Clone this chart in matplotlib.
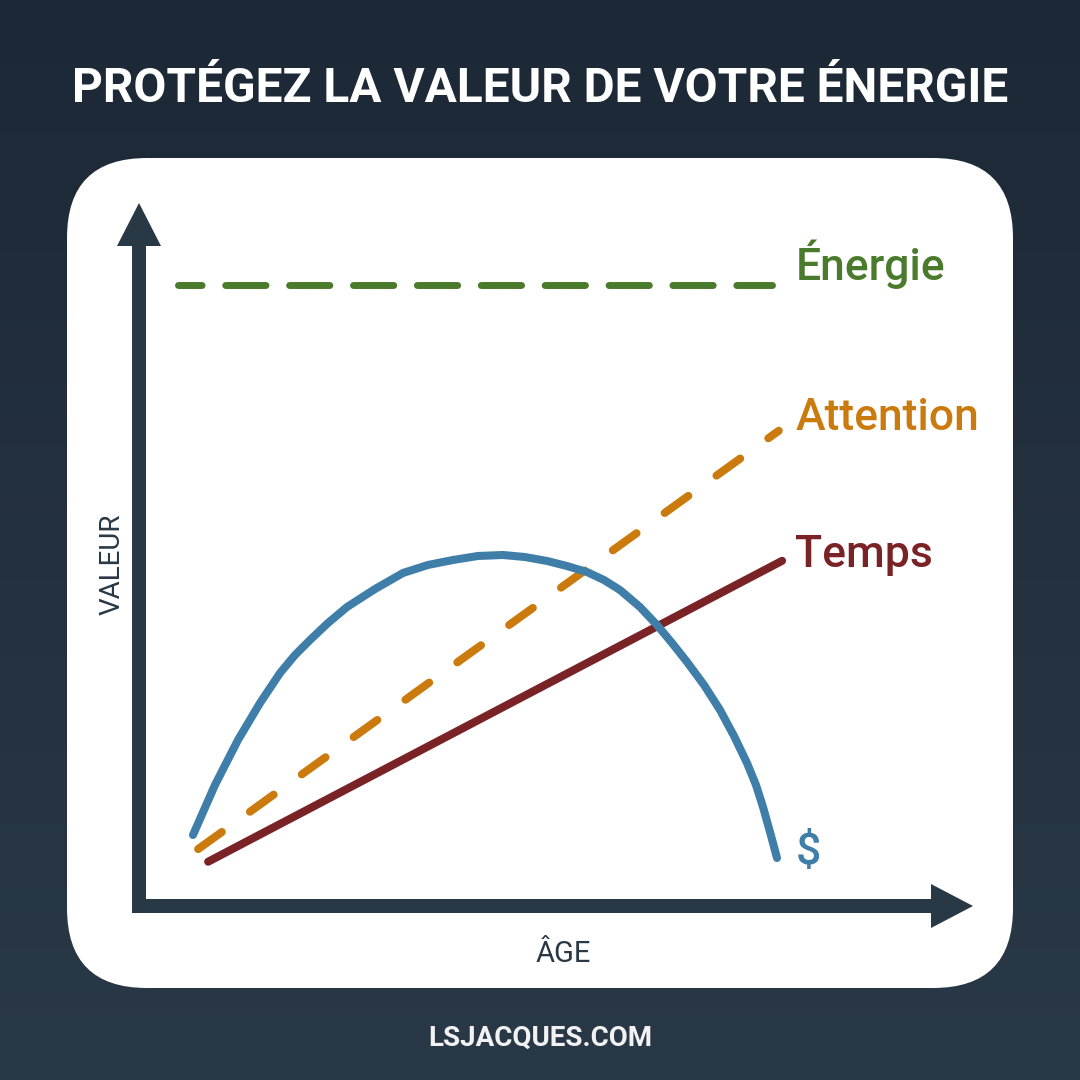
import matplotlib
matplotlib.use("Agg")
import matplotlib.pyplot as plt
import numpy as np
from matplotlib.patches import FancyBboxPatch, Polygon

plt.rcParams['font.family'] = ['Roboto', 'DejaVu Sans']
plt.rcParams['lines.scale_dashes'] = False

# données (âge 0-100, valeur 0-100)
energie_x = [4.7, 76.0]
energie_y = [88.3, 88.3]
attention_x = [7.1, 76.8]
attention_y = [8.1, 67.6]
temps_x = [8.3, 77.2]
temps_y = [6.3, 49.1]
argent_x = [6.48, 9.12, 11.88, 14.53, 16.93, 18.73, 20.53, 22.69, 24.97, 28.33,
            31.69, 34.69, 37.70, 40.70, 43.70, 46.34, 48.98, 51.38, 53.78, 55.82,
            57.74, 60.14, 62.18, 63.99, 65.79, 67.83, 69.75, 71.43, 72.99, 74.07,
            74.91, 75.75, 76.59]
argent_y = [10.10, 17.21, 23.61, 28.88, 33.14, 35.70, 37.84, 40.26, 42.53, 45.09,
            47.37, 48.51, 49.22, 49.79, 49.93, 49.64, 49.08, 48.36, 47.51, 46.37,
            44.95, 42.53, 39.97, 37.41, 34.71, 31.44, 27.88, 24.18, 20.34, 17.21,
            14.08, 10.53, 6.83]

titre = "PROTÉGEZ LA VALEUR DE VOTRE ÉNERGIE"
labels = ["Énergie", "Attention", "Temps", "$"]
label_x = [78.8, 78.8, 78.8, 78.8]
label_y = [89.0, 67.7, 48.2, 7.7]

VERT = '#4a7a2b'
ORANGE = '#cb7b0e'
ROUGE = '#7a2327'
BLEU = '#3f7ea8'
AXE = '#283845'

W = H = 1080
fig = plt.figure(figsize=(10.8, 10.8), dpi=100)

# fond : dégradé + cadre blanc arrondi
bg = fig.add_axes([0, 0, 1, 1])
bg.set_xlim(0, W)
bg.set_ylim(H, 0)
bg.axis('off')
top = np.array([0x1d, 0x28, 0x36]) / 255
bot = np.array([0x2a, 0x39, 0x47]) / 255
t = np.linspace(0, 1, 256)[:, None, None]
grad = top * (1 - t) + bot * t
grad = np.repeat(grad, 2, axis=1)
bg.imshow(grad, extent=[0, W, H, 0], aspect='auto', zorder=0)

box = FancyBboxPatch((67 + 80, 158 + 80), 1013 - 67 - 160, 988 - 158 - 160,
                     boxstyle="round,pad=80", fc='white', ec='none', zorder=1)
bg.add_patch(box)

# flèches des axes
yaxis = Polygon([(132, 913), (132, 246), (117, 246), (139, 203), (161, 246),
                 (146, 246), (146, 913)], closed=True, fc=AXE, ec='none', zorder=2)
xaxis = Polygon([(132, 899), (931, 899), (931, 884), (973, 906), (931, 928),
                 (931, 913), (132, 913)], closed=True, fc=AXE, ec='none', zorder=2)
bg.add_patch(yaxis)
bg.add_patch(xaxis)

bg.text(540, 102, titre, color='white', fontsize=34.5, fontweight='bold',
        ha='center', va='baseline', zorder=3)
bg.text(540, 1046, "LSJACQUES.COM", color='#f2f2f2', fontsize=20, fontweight='bold',
        ha='center', va='baseline', zorder=3)
bg.text(112, 564, "VALEUR", color=AXE, fontsize=20, rotation=90,
        ha='center', va='center', zorder=3)
bg.text(563, 962, "ÂGE", color=AXE, fontsize=21, ha='center', va='baseline', zorder=3)

# zone des données
ax = fig.add_axes([139 / W, (H - 906) / H, (972 - 139) / W, (906 - 203) / H])
ax.set_xlim(0, 100)
ax.set_ylim(0, 100)
ax.patch.set_alpha(0)
ax.axis('off')

ax.plot(energie_x, energie_y, color=VERT, lw=5, solid_capstyle='round',
        dash_capstyle='round', ls=(12, (29, 17)))
ax.plot(attention_x, attention_y, color=ORANGE, lw=5.8, dash_capstyle='round',
        ls=(0, (21, 25)))
ax.plot(temps_x, temps_y, color=ROUGE, lw=5.8, solid_capstyle='round')
ax.plot(argent_x, argent_y, color=BLEU, lw=5.8, solid_capstyle='round',
        solid_joinstyle='round')

couleurs = [VERT, ORANGE, ROUGE, BLEU]
for lab, x, y, c in zip(labels, label_x, label_y, couleurs):
    va = 'center' if lab == "$" else 'baseline'
    ax.text(x, y, lab, color=c, fontsize=32, fontweight='medium', ha='left', va=va)

fig.savefig("out.png", dpi=100)
